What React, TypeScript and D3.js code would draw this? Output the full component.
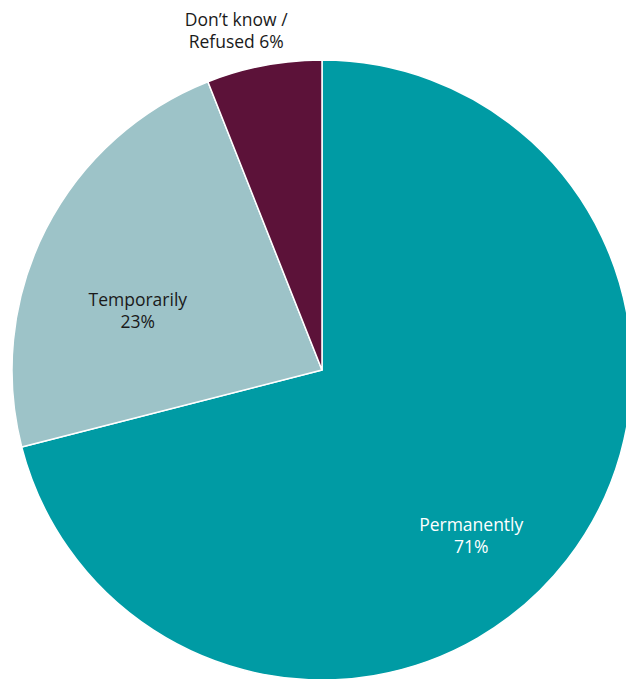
import React, { useMemo } from "react";
import * as d3 from "d3";

const categories = ["Permanently", "Temporarily", "Don\u2019t know / Refused"];
const values = [71, 23, 6];
const labelLines = [["Permanently", "71%"], ["Temporarily", "23%"], ["Don\u2019t know /", "Refused 6%"]];
const colors = ["#009ba4", "#9dc3c8", "#5c1239"];

// label placement (polar, degrees clockwise from top, radius in px)
const labelPolar = [
  { a: 138.9, r: 227, fill: "#ffffff" },
  { a: 286.4, r: 192, fill: "#1a1a1a" },
  { a: 345.6, r: 345, fill: "#1a1a1a" },
];

export default function App() {
  const W = 626, H = 679;
  const cx = 322, cy = 370, R = 310;
  const arcs = useMemo(() => d3.pie<number>().sort(null)(values), []);
  const arcGen = d3.arc<d3.PieArcDatum<number>>().innerRadius(0).outerRadius(R);
  return (
    <svg width={W} height={H} style={{ position: "absolute", left: 0, top: 0, background: "#fff" }}
      fontFamily="'Open Sans', Lato, sans-serif">
      <g transform={`translate(${cx},${cy})`}>
        {arcs.map((a, i) => (
          <path key={categories[i]} d={arcGen(a) || ""} fill={colors[i]} stroke="#fff" strokeWidth={1.5} strokeLinejoin="round" />
        ))}
        {arcs.map((a, i) => {
          const lp = labelPolar[i];
          const ang = (lp.a * Math.PI) / 180;
          const x = Math.sin(ang) * lp.r;
          const y = -Math.cos(ang) * lp.r;
          return (
            <text key={"l" + i} textAnchor="middle" fontSize={17.5} fill={lp.fill}>
              <tspan x={x} y={y - 10}>{labelLines[i][0]}</tspan>
              <tspan x={x} y={y + 12}>{labelLines[i][1]}</tspan>
            </text>
          );
        })}
      </g>
    </svg>
  );
}
